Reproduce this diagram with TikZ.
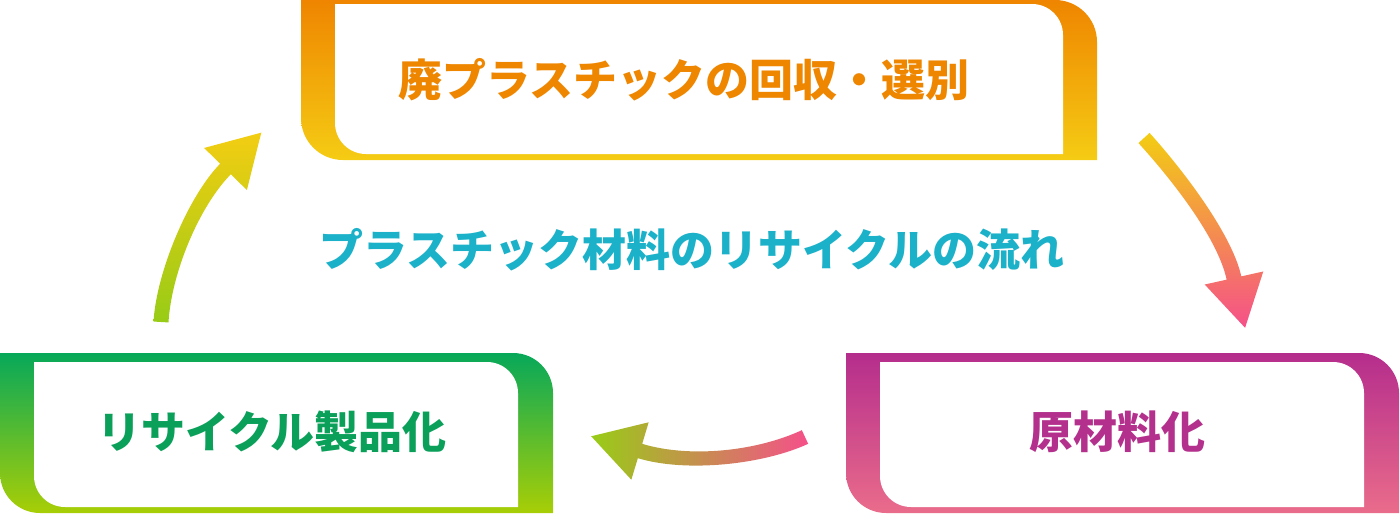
\documentclass[tikz,border=0pt]{standalone}
\usepackage{fontspec}
\newfontfamily\jp{Noto Sans CJK JP}
\usetikzlibrary{calc}
\definecolor{orTop}{HTML}{EF8500}
\definecolor{orBot}{HTML}{F5CC14}
\definecolor{orTxt}{HTML}{EE8600}
\definecolor{grTop}{HTML}{07A85A}
\definecolor{grBot}{HTML}{A8CE06}
\definecolor{grTxt}{HTML}{0AA05A}
\definecolor{pkTop}{HTML}{B52D8C}
\definecolor{pkBot}{HTML}{EA6C8B}
\definecolor{pkTxt}{HTML}{B3308C}
\definecolor{cyTxt}{HTML}{1BB1C9}
\definecolor{arYel}{HTML}{F3CD12}
\definecolor{arPink}{HTML}{F5508A}
\definecolor{arGrn}{HTML}{98CC16}
\begin{document}
\begin{tikzpicture}[x=1pt,y=-1pt,
  jtxt/.style={font=\jp\bfseries\fontsize{44}{52}\selectfont, inner sep=0pt, anchor=center}]
\useasboundingbox (0,0) rectangle (1400,514);

% ---- top box ----
\shade[top color=orTop,bottom color=orBot] (301,0) -- (1055,0) .. controls (1078.2,0) and (1097,18.8) .. (1097,42) -- (1097,160) -- (343,160) .. controls (319.8,160) and (301,141.2) .. (301,118) -- cycle;
\fill[white] (335,4) -- (1032,4) .. controls (1049.1,4) and (1063,17.9) .. (1063,35) -- (1063,154) -- (366,154) .. controls (348.9,154) and (335,140.1) .. (335,123) -- cycle;

% ---- green box ----
\shade[top color=grTop,bottom color=grBot] (0,353) -- (513,353) .. controls (535.1,353) and (553,370.9) .. (553,393) -- (553,513) -- (40,513) .. controls (17.9,513) and (0,495.1) .. (0,473) -- cycle;
\fill[white] (34,362) -- (487,362) .. controls (504.1,362) and (518,375.9) .. (518,393) -- (518,507) -- (65,507) .. controls (47.9,507) and (34,493.1) .. (34,476) -- cycle;

% ---- pink box ----
\shade[top color=pkTop,bottom color=pkBot] (846,353) -- (1359,353) .. controls (1381.1,353) and (1399,370.9) .. (1399,393) -- (1399,513) -- (886,513) .. controls (863.9,513) and (846,495.1) .. (846,473) -- cycle;
\fill[white] (880,362) -- (1333,362) .. controls (1350.1,362) and (1364,375.9) .. (1364,393) -- (1364,507) -- (911,507) .. controls (893.9,507) and (880,493.1) .. (880,476) -- cycle;

% ---- texts ----
\node[jtxt, text=orTxt] (collect) at (684,80) {廃プラスチックの回収・選別};
\node[jtxt, text=pkTxt] (raw) at (1117,432) {原材料化};
\node[jtxt, text=grTxt] (product) at (272,432) {リサイクル製品化};
\node[jtxt, text=cyTxt] (title) at (692,250) {プラスチック材料のリサイクルの流れ};

% ---- right arrow ----
\coordinate (rA0) at (1144,138);
\coordinate (rA1) at (1174,171);
\coordinate (rA2) at (1224.2,234);
\coordinate (rA3) at (1234,278);
\shade[top color=arYel, bottom color=arPink]
 ($(rA0)!7.5pt!90:(rA1)$) .. controls ($(rA1)!7.5pt!-90:(rA0)$) and ($(rA2)!7.5pt!90:(rA3)$) .. ($(rA3)!7.5pt!-90:(rA2)$)
 -- ($(rA3)!30pt!-90:(rA2)$) -- ($(rA3)!-51pt!(rA2)$) -- ($(rA3)!30pt!90:(rA2)$)
 -- ($(rA3)!7.5pt!90:(rA2)$) .. controls ($(rA2)!7.5pt!-90:(rA3)$) and ($(rA1)!7.5pt!90:(rA0)$) .. ($(rA0)!7.5pt!-90:(rA1)$) -- cycle;

% ---- bottom arrow ----
\coordinate (bA0) at (805,437);
\coordinate (bA1) at (759.5,458);
\coordinate (bA2) at (688,465.5);
\coordinate (bA3) at (640,451);
\shade[left color=arGrn, right color=arPink]
 ($(bA0)!7.5pt!90:(bA1)$) .. controls ($(bA1)!7.5pt!-90:(bA0)$) and ($(bA2)!7.5pt!90:(bA3)$) .. ($(bA3)!7.5pt!-90:(bA2)$)
 -- ($(bA3)!30pt!-90:(bA2)$) -- ($(bA3)!-51pt!(bA2)$) -- ($(bA3)!30pt!90:(bA2)$)
 -- ($(bA3)!7.5pt!90:(bA2)$) .. controls ($(bA2)!7.5pt!-90:(bA3)$) and ($(bA1)!7.5pt!90:(bA0)$) .. ($(bA0)!7.5pt!-90:(bA1)$) -- cycle;

% ---- left arrow ----
\coordinate (lA0) at (161,322);
\coordinate (lA1) at (164,272);
\coordinate (lA2) at (194,201);
\coordinate (lA3) at (225.5,169);
\shade[top color=arYel, bottom color=arGrn]
 ($(lA0)!7.5pt!90:(lA1)$) .. controls ($(lA1)!7.5pt!-90:(lA0)$) and ($(lA2)!7.5pt!90:(lA3)$) .. ($(lA3)!7.5pt!-90:(lA2)$)
 -- ($(lA3)!30pt!-90:(lA2)$) -- ($(lA3)!-51pt!(lA2)$) -- ($(lA3)!30pt!90:(lA2)$)
 -- ($(lA3)!7.5pt!90:(lA2)$) .. controls ($(lA2)!7.5pt!-90:(lA3)$) and ($(lA1)!7.5pt!90:(lA0)$) .. ($(lA0)!7.5pt!-90:(lA1)$) -- cycle;
\end{tikzpicture}
\end{document}
